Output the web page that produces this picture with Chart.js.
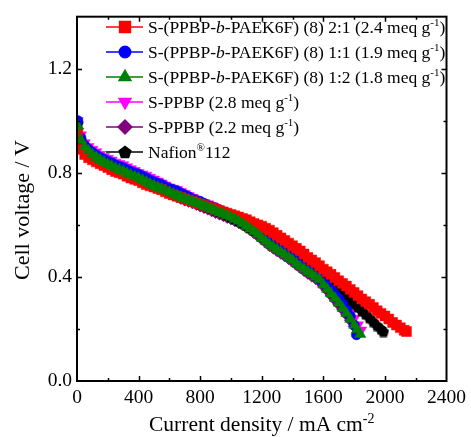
<!DOCTYPE html>
<html>
<head>
<meta charset="utf-8">
<script src="https://cdn.jsdelivr.net/npm/chart.js@4.4.1/dist/chart.umd.min.js"></script>
<style>
html,body{margin:0;padding:0;background:#fff;}
#wrap{width:471px;height:437px;position:relative;overflow:hidden;}
canvas{display:block;}
</style>
</head>
<body>
<div id="wrap"><canvas id="c" width="471" height="437"></canvas></div>
<script>
// ---------- data ----------
// current density, mA cm-2 (one row = 200 mA)
const I_BASE = [
  5,25,50,75,100,125,150,175,
  200,225,250,275,300,325,350,375,
  400,425,450,475,500,525,550,575,
  600,625,650,675,700,725,750,775,
  800,825,850,875,900,925,950,975,
  1000,1025,1050,1075,1100,1125,1150,1175,
  1200,1225,1250,1275,1300,1325,1350,1375,
  1400,1425,1450,1475,1500,1525,1550,1575,
  1600,1625,1650,1675,1700,1725,1750,1775,
  1800];

// S-(PPBP-b-PAEK6F) (8) 2:1
const I_21 = I_BASE.concat([1825,1850,1875,1900,1925,1950,1975,2000,2025,2050,2075,2100,2125,2140]);
const V_21 = [
  0.95,0.89,0.87,0.858,0.85,0.842,0.835,0.828,
  0.82,0.812,0.805,0.80,0.795,0.787,0.78,0.775,
  0.77,0.762,0.755,0.75,0.745,0.74,0.735,0.727,
  0.72,0.715,0.71,0.705,0.70,0.695,0.69,0.685,
  0.68,0.675,0.67,0.665,0.66,0.655,0.65,0.645,
  0.64,0.635,0.63,0.625,0.62,0.612,0.605,0.60,
  0.595,0.587,0.58,0.57,0.56,0.55,0.54,0.53,
  0.52,0.51,0.50,0.488,0.475,0.465,0.455,0.443,
  0.43,0.42,0.41,0.398,0.385,0.375,0.365,0.352,
  0.34,
  0.328,0.315,0.305,0.295,0.283,0.27,0.26,0.25,0.238,0.225,0.215,0.205,0.195,0.19];

// S-(PPBP-b-PAEK6F) (8) 1:1
const I_11 = I_BASE.concat([1815]);
const V_11 = [
  1.00,0.935,0.905,0.89,0.878,0.868,0.86,0.852,
  0.845,0.838,0.83,0.825,0.82,0.812,0.805,0.80,
  0.795,0.787,0.78,0.772,0.765,0.76,0.755,0.747,
  0.74,0.735,0.73,0.722,0.715,0.708,0.70,0.695,
  0.69,0.682,0.675,0.67,0.665,0.657,0.65,0.643,
  0.635,0.628,0.62,0.612,0.605,0.595,0.585,0.578,
  0.57,0.56,0.55,0.538,0.525,0.515,0.505,0.495,
  0.485,0.472,0.45,0.44,0.428,0.417,0.405,0.393,
  0.38,0.365,0.35,0.333,0.315,0.296,0.275,0.25,
  0.215,
  0.178];

// S-(PPBP-b-PAEK6F) (8) 1:2
const I_12 = I_BASE.concat([1820,1840]);
const V_12 = [
  0.98,0.925,0.90,0.885,0.87,0.86,0.85,0.842,
  0.833,0.826,0.818,0.812,0.806,0.798,0.792,0.786,
  0.78,0.772,0.765,0.757,0.75,0.744,0.738,0.731,
  0.725,0.719,0.713,0.706,0.70,0.695,0.69,0.684,
  0.678,0.673,0.668,0.66,0.653,0.648,0.642,0.636,
  0.63,0.622,0.615,0.605,0.595,0.585,0.575,0.563,
  0.55,0.538,0.525,0.515,0.505,0.495,0.485,0.475,
  0.465,0.452,0.44,0.43,0.42,0.41,0.40,0.39,
  0.37,0.353,0.335,0.318,0.30,0.28,0.26,0.238,
  0.215,
  0.198,0.18];

// S-PPBP (2.8 meq g-1)
const I_28 = I_BASE.concat([1825,1845]);
const V_28 = [
  1.00,0.945,0.915,0.90,0.89,0.88,0.87,0.862,
  0.855,0.848,0.84,0.835,0.83,0.822,0.815,0.808,
  0.80,0.795,0.79,0.782,0.775,0.768,0.76,0.752,
  0.745,0.74,0.735,0.727,0.72,0.712,0.705,0.697,
  0.69,0.685,0.68,0.672,0.665,0.657,0.65,0.642,
  0.635,0.627,0.62,0.61,0.60,0.592,0.585,0.575,
  0.565,0.555,0.545,0.535,0.525,0.515,0.505,0.493,
  0.48,0.466,0.45,0.438,0.427,0.415,0.403,0.392,
  0.38,0.367,0.353,0.338,0.322,0.305,0.286,0.263,
  0.24,
  0.215,0.195];

// S-PPBP (2.2 meq g-1)
const I_22 = I_BASE.slice();
const V_22 = [
  0.97,0.915,0.89,0.878,0.865,0.855,0.845,0.836,
  0.828,0.82,0.813,0.806,0.80,0.793,0.787,0.781,
  0.775,0.767,0.76,0.752,0.745,0.739,0.733,0.726,
  0.72,0.714,0.708,0.701,0.695,0.69,0.684,0.678,
  0.672,0.666,0.66,0.653,0.647,0.641,0.635,0.628,
  0.623,0.616,0.608,0.60,0.59,0.58,0.569,0.557,
  0.545,0.533,0.52,0.51,0.50,0.49,0.48,0.47,
  0.458,0.447,0.435,0.424,0.413,0.403,0.393,0.382,
  0.365,0.348,0.33,0.312,0.294,0.275,0.255,0.233,
  0.21];

// Nafion 112
const I_NAF = I_BASE.concat([1825,1850,1875,1900,1925,1950,1975,1990]);
const V_NAF = [
  0.99,0.925,0.90,0.885,0.872,0.862,0.852,0.845,
  0.837,0.83,0.822,0.816,0.81,0.802,0.796,0.79,
  0.785,0.777,0.77,0.762,0.755,0.749,0.743,0.736,
  0.73,0.724,0.718,0.711,0.705,0.70,0.694,0.688,
  0.682,0.676,0.67,0.664,0.658,0.652,0.645,0.638,
  0.63,0.623,0.615,0.607,0.60,0.59,0.58,0.572,
  0.563,0.553,0.543,0.532,0.52,0.51,0.50,0.49,
  0.48,0.475,0.47,0.46,0.45,0.44,0.43,0.418,
  0.405,0.392,0.378,0.363,0.35,0.337,0.323,0.31,
  0.297,
  0.284,0.27,0.257,0.243,0.228,0.213,0.2,0.19];

// legend labels: [text, kind] kind: '' normal, 'i' italic, 's' superscript
const LABEL_21 = [['S-(PPBP-',''],['b','i'],['-PAEK6F) (8) 2:1 (2.4 meq g',''],['-1','s'],[')','']];
const LABEL_11 = [['S-(PPBP-',''],['b','i'],['-PAEK6F) (8) 1:1 (1.9 meq g',''],['-1','s'],[')','']];
const LABEL_12 = [['S-(PPBP-',''],['b','i'],['-PAEK6F) (8) 1:2 (1.8 meq g',''],['-1','s'],[')','']];
const LABEL_28 = [['S-PPBP (2.8 meq g',''],['-1','s'],[')','']];
const LABEL_22 = [['S-PPBP (2.2 meq g',''],['-1','s'],[')','']];
const LABEL_NAF = [['Nafion',''],['\u00AE','s'],['112','']];

const X_TITLE = [['Current density / mA cm',''],['-2','s']];
const Y_TITLE = 'Cell voltage / V';

const X_MIN = 0, X_MAX = 2400, X_STEP = 200, X_LABEL_STEP = 400;
const Y_MIN = 0, Y_MAX = 1.4, Y_STEP = 0.2, Y_LABEL_STEP = 0.4;

// ---------- styling ----------
const FONT = '"Liberation Serif", "Times New Roman", serif';

function makePentagon(size, color) {
  const c = document.createElement('canvas');
  c.width = size; c.height = size;
  const g = c.getContext('2d');
  const r = size / 2;
  g.fillStyle = color;
  g.beginPath();
  for (let k = 0; k < 5; k++) {
    const a = -Math.PI / 2 + k * 2 * Math.PI / 5;
    const px = r + r * Math.cos(a), py = r + 0.6 + r * Math.sin(a);
    if (k === 0) g.moveTo(px, py); else g.lineTo(px, py);
  }
  g.closePath();
  g.fill();
  return c;
}
const PENT = makePentagon(12, '#000000');
const PENT_LEG = makePentagon(14, '#000000');

function pairs(xs, ys) {
  const n = Math.min(xs.length, ys.length);
  const out = [];
  for (let i = 0; i < n; i++) out.push({x: xs[i], y: ys[i]});
  return out;
}

const SERIES = [
  {label: LABEL_21, xs: I_21, ys: V_21, color: '#ff0000', style: 'rect', rot: 0, r: 7, lr: 7.8, order: 2},
  {label: LABEL_11, xs: I_11, ys: V_11, color: '#0000ff', style: 'circle', rot: 0, r: 5.2, lr: 5.8, order: 3},
  {label: LABEL_12, xs: I_12, ys: V_12, color: '#008000', style: 'triangle', rot: 0, r: 6.5, lr: 7, order: 1},
  {label: LABEL_28, xs: I_28, ys: V_28, color: '#ff00ff', style: 'triangle', rot: 180, r: 6.5, lr: 7, order: 5},
  {label: LABEL_22, xs: I_22, ys: V_22, color: '#800080', style: 'rectRot', rot: 0, r: 6, lr: 7, order: 6},
  {label: LABEL_NAF, xs: I_NAF, ys: V_NAF, color: '#000000', style: PENT, legStyle: PENT_LEG, rot: 0, r: 6, lr: 7, order: 4},
];

function segFont(kind, size) {
  if (kind === 'i') return 'italic ' + size + 'px ' + FONT;
  if (kind === 's') return Math.round(size * 0.64) + 'px ' + FONT;
  return size + 'px ' + FONT;
}
function richWidth(ctx, segs, size) {
  let w = 0;
  segs.forEach(s => { ctx.font = segFont(s[1], size); w += ctx.measureText(s[0]).width; });
  return w;
}
function drawRich(ctx, segs, x, y, size, align) {
  const total = richWidth(ctx, segs, size);
  let cx = align === 'center' ? x - total / 2 : x;
  ctx.textAlign = 'left';
  ctx.textBaseline = 'alphabetic';
  segs.forEach(s => {
    ctx.font = segFont(s[1], size);
    const w = ctx.measureText(s[0]).width;
    ctx.fillText(s[0], cx, s[1] === 's' ? y - size * 0.38 : y);
    cx += w;
  });
}

const framePlugin = {
  id: 'frame',
  afterDraw(chart) {
    const ctx = chart.ctx;
    const a = chart.chartArea;
    const xs = chart.scales.x, ys = chart.scales.y;
    ctx.save();
    ctx.strokeStyle = '#000';
    ctx.fillStyle = '#000';
    ctx.lineWidth = 1.5;
    ctx.beginPath();
    xs.ticks.forEach(t => {
      if (t.value <= X_MIN || t.value >= X_MAX) return;
      const px = Math.round(xs.getPixelForValue(t.value)) + 0.5;
      const major = Math.abs(t.value / X_LABEL_STEP - Math.round(t.value / X_LABEL_STEP)) < 1e-6;
      const len = major ? 5 : 3;
      ctx.moveTo(px, a.bottom); ctx.lineTo(px, a.bottom - len);
      ctx.moveTo(px, a.top); ctx.lineTo(px, a.top + len);
    });
    ys.ticks.forEach(t => {
      if (t.value <= Y_MIN + 1e-9 || t.value >= Y_MAX - 1e-9) return;
      const py = Math.round(ys.getPixelForValue(t.value)) + 0.5;
      const major = Math.abs(t.value / Y_LABEL_STEP - Math.round(t.value / Y_LABEL_STEP)) < 1e-6;
      const len = major ? 5 : 3;
      ctx.moveTo(a.left, py); ctx.lineTo(a.left + len, py);
      ctx.moveTo(a.right, py); ctx.lineTo(a.right - len, py);
    });
    ctx.stroke();
    ctx.lineWidth = 2;
    ctx.strokeRect(a.left, a.top, a.right - a.left, a.bottom - a.top);

    // legend
    const rowY0 = 27, rowDy = 25, lineX0 = 106, lineX1 = 143, markX = 125, textX = 148;
    SERIES.forEach((s, i) => {
      const y = rowY0 + i * rowDy;
      ctx.strokeStyle = s.color;
      ctx.lineWidth = 1.3;
      ctx.beginPath(); ctx.moveTo(lineX0, y); ctx.lineTo(lineX1, y); ctx.stroke();
      ctx.fillStyle = s.color;
      ctx.strokeStyle = s.color;
      Chart.helpers.drawPoint(ctx, {pointStyle: s.legStyle || s.style, rotation: s.rot, radius: s.lr, borderWidth: 0.5}, markX, y);
      ctx.fillStyle = '#000';
      drawRich(ctx, s.label, textX, y + 6, 17.5, 'left');
    });

    // axis titles
    ctx.fillStyle = '#000';
    drawRich(ctx, X_TITLE, (a.left + a.right) / 2, 431, 21.5, 'center');
    ctx.save();
    ctx.translate(23, 210);
    ctx.rotate(-Math.PI / 2);
    ctx.font = '22px ' + FONT;
    ctx.textAlign = 'center';
    ctx.textBaseline = 'middle';
    ctx.fillText(Y_TITLE, 0, 0);
    ctx.restore();
    ctx.restore();
  }
};

const datasets = SERIES.map(s => ({
  label: s.label.map(p => p[0]).join(''),
  data: pairs(s.xs, s.ys),
  showLine: true,
  borderColor: s.color,
  backgroundColor: s.color,
  borderWidth: 1,
  pointStyle: s.style,
  pointRotation: s.rot,
  pointRadius: s.r,
  pointHoverRadius: s.r,
  pointBackgroundColor: s.color,
  pointBorderColor: s.color,
  pointBorderWidth: 0.5,
  order: s.order,
}));

new Chart(document.getElementById('c'), {
  type: 'scatter',
  data: {datasets},
  options: {
    responsive: false,
    animation: false,
    devicePixelRatio: 1,
    events: [],
    layout: {padding: {left: 0, top: 13, right: 23, bottom: 0}},
    plugins: {legend: {display: false}, tooltip: {enabled: false}},
    scales: {
      x: {
        type: 'linear', min: X_MIN, max: X_MAX,
        afterFit(s) { s.height = 56; },
        grid: {display: false, drawTicks: false},
        border: {display: false},
        ticks: {
          stepSize: X_STEP, autoSkip: false, maxRotation: 0, padding: 5, color: '#000',
          font: {family: FONT, size: 19.5},
          callback: v => (v % X_LABEL_STEP === 0 ? String(v) : '')
        }
      },
      y: {
        type: 'linear', min: Y_MIN, max: Y_MAX,
        afterFit(s) { s.width = 77; },
        grid: {display: false, drawTicks: false},
        border: {display: false},
        ticks: {
          stepSize: Y_STEP, autoSkip: false, padding: 5, color: '#000',
          font: {family: FONT, size: 19.5},
          callback: v => (Math.abs(v / Y_LABEL_STEP - Math.round(v / Y_LABEL_STEP)) < 1e-6 && v < Y_MAX - 1e-9 ? v.toFixed(1) : '')
        }
      }
    }
  },
  plugins: [framePlugin]
});
</script>
</body>
</html>
